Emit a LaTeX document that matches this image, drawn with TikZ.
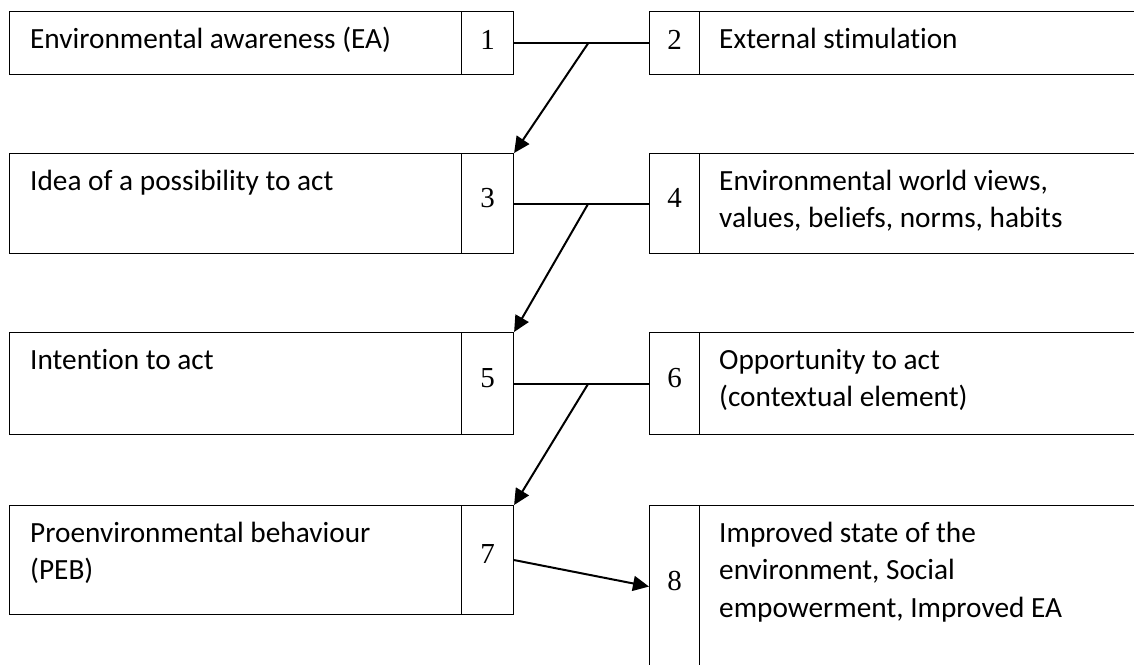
\documentclass[tikz,border=0pt]{standalone}
\usepackage{fontspec}
\setmainfont{Carlito}[Ligatures=NoCommon]
\newfontfamily\numfont{Liberation Serif}
\usetikzlibrary{arrows.meta,calc}
\begin{document}
\begin{tikzpicture}[x=1pt,y=-1pt,
  cell/.style={draw, line width=1.1pt, inner sep=0pt, anchor=north west},
  numcell/.style={cell, font=\numfont\fontsize{29}{29}\selectfont,
    text height=20pt, text depth=13pt},
  firstrow/.style={text depth=8pt},
  txt/.style={font=\fontsize{29.3}{37.5}\selectfont, align=left,
    inner sep=0pt, anchor=base west},
  link/.style={line width=2pt},
  arr/.style={link, -{Triangle[length=16pt,width=15pt]}}]
\useasboundingbox (0,0) rectangle (1134,664);
\clip (0,0) rectangle (1134,664);
\fill[white] (0,0) rectangle (1134,664);

% left column: text cell + number cell
\node[cell, minimum width=452pt, minimum height=63pt]  (b1) at (9,11) {};
\node[numcell, firstrow, minimum width=52pt, minimum height=63pt] (n1) at (461,11) {1};
\node[cell, minimum width=452pt, minimum height=100pt] (b3) at (9,153) {};
\node[numcell, minimum width=52pt, minimum height=100pt] (n3) at (461,153) {3};
\node[cell, minimum width=452pt, minimum height=102pt] (b5) at (9,332) {};
\node[numcell, minimum width=52pt, minimum height=102pt] (n5) at (461,332) {5};
\node[cell, minimum width=452pt, minimum height=109pt] (b7) at (9,505) {};
\node[numcell, minimum width=52pt, minimum height=109pt] (n7) at (461,505) {7};

% right column: number cell + text cell (running past the right edge)
\node[numcell, firstrow, minimum width=50pt, minimum height=63pt] (n2) at (649,11) {2};
\node[cell, minimum width=460pt, minimum height=63pt]  (b2) at (699,11) {};
\node[numcell, minimum width=50pt, minimum height=100pt] (n4) at (649,153) {4};
\node[cell, minimum width=460pt, minimum height=100pt] (b4) at (699,153) {};
\node[numcell, minimum width=50pt, minimum height=102pt] (n6) at (649,332) {6};
\node[cell, minimum width=460pt, minimum height=102pt] (b6) at (699,332) {};
\node[numcell, minimum width=50pt, minimum height=162pt] (n8) at (649,505) {8};
\node[cell, minimum width=460pt, minimum height=162pt] (b8) at (699,505) {};

% cell texts (anchored on the baseline of their last line)
\node[txt] (t1) at ($(b1.north west)+(21,37)$) {Environmental awareness (EA)};
\node[txt] (t3) at ($(b3.north west)+(21,37)$) {Idea of a possibility to act};
\node[txt] (t5) at ($(b5.north west)+(21,37)$) {Intention to act};
\node[txt] (t7) at ($(b7.north west)+(21,74.5)$) {Proenvironmental behaviour\\(PEB)};
\node[txt] (t2) at ($(b2.north west)+(20,37)$) {External stimulation};
\node[txt] (t4) at ($(b4.north west)+(20,74.5)$) {Environmental world views,\\values, beliefs, norms, habits};
\node[txt] (t6) at ($(b6.north west)+(20,74.5)$) {Opportunity to act\\(contextual element)};
\node[txt] (t8) at ($(b8.north west)+(20,112)$) {Improved state of the\\environment, Social\\empowerment, Improved EA};

% connectors
\draw[link] (n1.east) -- coordinate[pos=0.55] (j1) (n2.west);
\draw[arr] (j1) -- (n3.north east);
\draw[link] (n3.east) -- coordinate[pos=0.55] (j2) (n4.west);
\draw[arr] (j2) -- (n5.north east);
\draw[link] (n5.east) -- coordinate[pos=0.55] (j3) (n6.west);
\draw[arr] (j3) -- (n7.north east);
\draw[arr] (n7.east) -- (n8.west);
\end{tikzpicture}
\end{document}
